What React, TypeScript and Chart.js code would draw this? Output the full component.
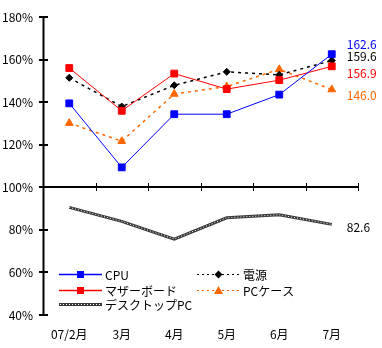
import React, { useEffect, useRef } from "react";
import { Chart, registerables } from "chart.js";

Chart.register(...registerables);

const categories = ["07/2月", "3月", "4月", "5月", "6月", "7月"];
const cpu = [139.5, 109.4, 134.4, 134.4, 143.6, 162.6];
const dengen = [151.5, 138.0, 148.0, 154.3, 152.9, 159.6];
const mother = [156.1, 136.0, 153.5, 146.2, 150.4, 156.9];
const pcCase = [130.2, 121.7, 143.9, 147.4, 155.5, 146.0];
const desktop = [90.6, 84.0, 75.7, 85.7, 87.1, 82.6];
const yTicks = [40, 60, 80, 100, 120, 140, 160, 180];
const baseline = 100;

const FONT = '"Noto Sans CJK JP", "Liberation Sans", sans-serif';
const BLUE = "#0000FF";
const RED = "#FF0000";
const ORANGE = "#FF6600";
const GRAY = "#383838";

function drawMarker(ctx: CanvasRenderingContext2D, style: string, x: number, y: number, color: string) {
  ctx.save();
  ctx.fillStyle = color;
  ctx.beginPath();
  if (style === "rect") {
    ctx.rect(x - 3.5, y - 3.5, 7, 7);
  } else if (style === "rectRot") {
    ctx.moveTo(x, y - 4);
    ctx.lineTo(x + 4, y);
    ctx.lineTo(x, y + 4);
    ctx.lineTo(x - 4, y);
    ctx.closePath();
  } else if (style === "triangle") {
    ctx.moveTo(x, y - 4.5);
    ctx.lineTo(x + 4.5, y + 3.5);
    ctx.lineTo(x - 4.5, y + 3.5);
    ctx.closePath();
  }
  ctx.fill();
  ctx.restore();
}

const overlayPlugin = {
  id: "overlay",
  beforeDatasetsDraw(chart: any) {
    const { ctx, chartArea, scales } = chart;
    const ys = scales.y;
    const xs = scales.x;
    ctx.save();
    ctx.strokeStyle = "#000";
    ctx.lineWidth = 2;
    ctx.beginPath();
    ctx.moveTo(chartArea.left + 0.5, chartArea.top);
    ctx.lineTo(chartArea.left + 0.5, chartArea.bottom);
    ctx.stroke();
    yTicks.forEach((v) => {
      const py = Math.round(ys.getPixelForValue(v));
      ctx.beginPath();
      ctx.moveTo(chartArea.left - 4, py);
      ctx.lineTo(chartArea.left + 5, py);
      ctx.stroke();
    });
    const by = Math.round(ys.getPixelForValue(baseline));
    ctx.beginPath();
    ctx.moveTo(chartArea.left, by);
    ctx.lineTo(chartArea.right, by);
    ctx.stroke();
    ctx.lineWidth = 1;
    const step = (chartArea.right - chartArea.left) / categories.length;
    for (let i = 0; i <= categories.length; i++) {
      const px = Math.round(xs.getPixelForValue(0) - step / 2 + i * step) + 0.5;
      ctx.beginPath();
      ctx.moveTo(px, by - 4);
      ctx.lineTo(px, by + 4);
      ctx.stroke();
    }
    ctx.restore();
  },
  afterDraw(chart: any) {
    const { ctx, scales } = chart;
    const ys = scales.y;
    const xs = scales.x;
    const last = categories.length - 1;
    const lx = xs.getPixelForValue(last) + 15;
    ctx.save();
    ctx.font = `12px ${FONT}`;
    ctx.textAlign = "left";
    ctx.textBaseline = "middle";
    const endLabels: [number[], string, number][] = [
      [cpu, BLUE, -10],
      [dengen, "#000", -4],
      [mother, RED, 7],
      [pcCase, ORANGE, 6],
      [desktop, "#000", 3],
    ];
    endLabels.forEach(([arr, color, off]) => {
      const v = arr[last];
      ctx.fillStyle = color;
      ctx.fillText(v.toFixed(1), lx, ys.getPixelForValue(v) + off);
    });

    const items = [
      { label: "CPU", color: BLUE, dash: [], marker: "rect", x: 59, y: 274 },
      { label: "マザーボード", color: RED, dash: [], marker: "rect", x: 59, y: 290 },
      { label: "デスクトップPC", color: GRAY, dash: [], marker: "chain", x: 59, y: 304 },
      { label: "電源", color: "#000", dash: [2, 3], marker: "rectRot", x: 197, y: 274 },
      { label: "PCケース", color: ORANGE, dash: [2, 3], marker: "triangle", x: 197, y: 290 },
    ];
    items.forEach((it) => {
      const x0 = it.x, x1 = it.x + 43, y = it.y + 0.5;
      if (it.marker === "chain") {
        ctx.save();
        ctx.strokeStyle = GRAY;
        ctx.lineWidth = 3;
        ctx.beginPath();
        ctx.moveTo(x0, y);
        ctx.lineTo(x1, y);
        ctx.stroke();
        ctx.strokeStyle = "#fff";
        ctx.lineWidth = 1;
        ctx.setLineDash([1, 2]);
        ctx.beginPath();
        ctx.moveTo(x0 + 1, y);
        ctx.lineTo(x1 - 1, y);
        ctx.stroke();
        ctx.restore();
      } else {
        ctx.save();
        ctx.strokeStyle = it.color;
        ctx.lineWidth = it.dash.length ? 1 : 1.5;
        ctx.setLineDash(it.dash);
        ctx.beginPath();
        ctx.moveTo(x0, y);
        ctx.lineTo(x1, y);
        ctx.stroke();
        ctx.restore();
        drawMarker(ctx, it.marker, x0 + 21.5, y, it.color);
      }
      ctx.fillStyle = "#000";
      ctx.font = `12px ${FONT}`;
      ctx.textAlign = "left";
      ctx.textBaseline = "middle";
      ctx.fillText(it.label, x1 + 3, it.y + 1);
    });
    ctx.restore();
  },
};

export default function App() {
  const ref = useRef<HTMLCanvasElement | null>(null);
  useEffect(() => {
    document.body.style.margin = "0";
    if (!ref.current) return;
    const chart = new Chart(ref.current, {
      type: "line",
      data: {
        labels: categories,
        datasets: [
          {
            label: "CPU",
            data: cpu,
            borderColor: BLUE,
            backgroundColor: BLUE,
            borderWidth: 1,
            pointStyle: "rect",
            pointRadius: 4.8,
            pointBorderWidth: 1,
            pointBackgroundColor: BLUE,
            pointBorderColor: BLUE,
          },
          {
            label: "マザーボード",
            data: mother,
            borderColor: RED,
            backgroundColor: RED,
            borderWidth: 1,
            pointStyle: "rect",
            pointRadius: 4.8,
            pointBorderWidth: 1,
            pointBackgroundColor: RED,
            pointBorderColor: RED,
          },
          {
            label: "電源",
            data: dengen,
            borderColor: "#000",
            backgroundColor: "#000",
            borderWidth: 1.5,
            borderDash: [3, 4],
            pointStyle: "rectRot",
            pointRadius: 3.5,
            pointBorderWidth: 1,
            pointBackgroundColor: "#000",
            pointBorderColor: "#000",
          },
          {
            label: "PCケース",
            data: pcCase,
            borderColor: ORANGE,
            backgroundColor: ORANGE,
            borderWidth: 1.5,
            borderDash: [3, 4],
            pointStyle: "triangle",
            pointRadius: 4.5,
            pointBorderWidth: 1,
            pointBackgroundColor: ORANGE,
            pointBorderColor: ORANGE,
          },
          {
            label: "デスクトップPC-overlay",
            data: desktop,
            borderColor: "#ffffff",
            borderWidth: 1,
            borderDash: [1, 2],
            pointRadius: 0,
          },
          {
            label: "デスクトップPC",
            data: desktop,
            borderColor: GRAY,
            borderWidth: 3,
            pointRadius: 0,
          },
        ],
      },
      options: {
        responsive: false,
        animation: false,
        layout: { padding: { left: 0, right: 24, top: 15, bottom: 0 } },
        plugins: {
          legend: { display: false },
          tooltip: { enabled: false },
        },
        scales: {
          x: {
            offset: true,
            grid: { display: false, drawTicks: false },
            border: { display: false },
            ticks: {
              color: "#000",
              font: { family: FONT, size: 12 },
              padding: 12,
              maxRotation: 0,
              autoSkip: false,
            },
            afterFit: (s: any) => {
              s.height = 33;
            },
          },
          y: {
            min: 40,
            max: 180,
            grid: { display: false, drawTicks: false },
            border: { display: false },
            ticks: {
              stepSize: 20,
              color: "#000",
              font: { family: FONT, size: 12 },
              padding: 10,
              callback: (v: any) => `${v}%`,
            },
            afterFit: (s: any) => {
              s.width = 43;
            },
          },
        },
      },
      plugins: [overlayPlugin],
    });
    return () => chart.destroy();
  }, []);
  return (
    <div style={{ width: 382, height: 348 }}>
      <canvas ref={ref} width={382} height={348} style={{ display: "block" }} />
    </div>
  );
}
